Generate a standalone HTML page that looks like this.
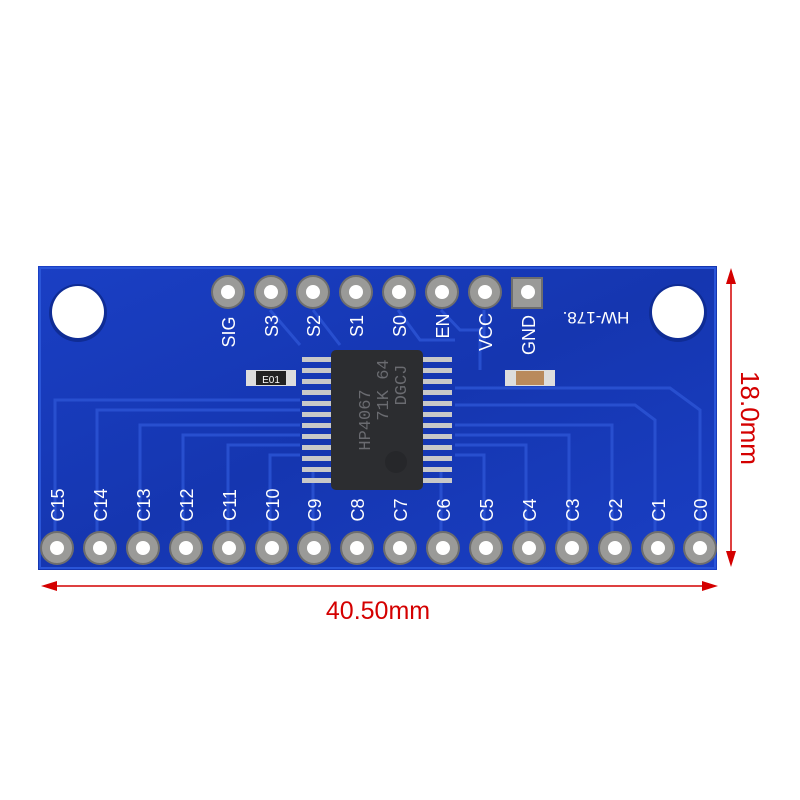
<!DOCTYPE html>
<html><head><style>body{margin:0;background:#fff}svg{display:block}</style></head><body>
<svg width="800" height="800" viewBox="0 0 800 800" xmlns="http://www.w3.org/2000/svg" font-family="Liberation Sans, sans-serif">
<defs>
<linearGradient id="bg" x1="0" y1="0" x2="1" y2="1"><stop offset="0" stop-color="#1a3fc4"/><stop offset="0.5" stop-color="#1536b0"/><stop offset="1" stop-color="#1a3fc4"/></linearGradient>
</defs>
<rect x="38" y="266" width="679" height="304" fill="url(#bg)"/>
<rect x="40" y="268" width="675" height="300" fill="none" stroke="#2a55d8" stroke-width="2"/>
<!-- traces -->
<g fill="none" stroke="#2a52d2" stroke-width="3" opacity="0.9">
<path d="M55 535 V400 H300"/><path d="M97 535 V410 H300"/><path d="M140 535 V425 H300"/><path d="M183 535 V435 H300"/>
<path d="M228 535 V445 H300"/><path d="M270 535 V455 H300"/><path d="M313 535 V470"/>
<path d="M700 535 V410 L670 388 H455"/><path d="M655 535 V420 L635 405 H455"/><path d="M612 535 V425 H455"/><path d="M569 535 V435 H455"/>
<path d="M526 535 V445 H455"/><path d="M484 535 V455 H455"/><path d="M441 535 V470"/>
<path d="M270 310 L300 345"/><path d="M313 310 L340 345"/><path d="M398 310 L420 340 H455"/><path d="M441 310 L460 330 H480 V370"/><path d="M484 310 V340"/>
</g>
<!-- mounting holes -->
<circle cx="78" cy="313" r="29" fill="#0f2c95"/><circle cx="78" cy="312" r="26" fill="#fff"/>
<circle cx="678" cy="313" r="29" fill="#0f2c95"/><circle cx="678" cy="312" r="26" fill="#fff"/>
<!-- top pins -->
<g>
<circle cx="228" cy="292" r="16" fill="#9a9a98" stroke="#6e6e6e" stroke-width="2"/><circle cx="228" cy="292" r="7" fill="#fff"/>
<circle cx="271" cy="292" r="16" fill="#9a9a98" stroke="#6e6e6e" stroke-width="2"/><circle cx="271" cy="292" r="7" fill="#fff"/>
<circle cx="313" cy="292" r="16" fill="#9a9a98" stroke="#6e6e6e" stroke-width="2"/><circle cx="313" cy="292" r="7" fill="#fff"/>
<circle cx="356" cy="292" r="16" fill="#9a9a98" stroke="#6e6e6e" stroke-width="2"/><circle cx="356" cy="292" r="7" fill="#fff"/>
<circle cx="399" cy="292" r="16" fill="#9a9a98" stroke="#6e6e6e" stroke-width="2"/><circle cx="399" cy="292" r="7" fill="#fff"/>
<circle cx="442" cy="292" r="16" fill="#9a9a98" stroke="#6e6e6e" stroke-width="2"/><circle cx="442" cy="292" r="7" fill="#fff"/>
<circle cx="485" cy="292" r="16" fill="#9a9a98" stroke="#6e6e6e" stroke-width="2"/><circle cx="485" cy="292" r="7" fill="#fff"/>
<rect x="512" y="278" width="30" height="30" fill="#9a9a98" stroke="#6e6e6e" stroke-width="2"/><circle cx="528" cy="292" r="7" fill="#fff"/>
</g>
<g fill="#fff" font-size="18" text-anchor="middle">
<text transform="translate(235,332) rotate(-90)">SIG</text>
<text transform="translate(278,326) rotate(-90)">S3</text>
<text transform="translate(320,326) rotate(-90)">S2</text>
<text transform="translate(363,326) rotate(-90)">S1</text>
<text transform="translate(406,326) rotate(-90)">S0</text>
<text transform="translate(449,326) rotate(-90)">EN</text>
<text transform="translate(492,332) rotate(-90)">VCC</text>
<text transform="translate(535,335) rotate(-90)">GND</text>
<text transform="translate(596,312) rotate(180)" font-size="17">HW-178.</text>
</g>
<!-- SMD parts -->
<rect x="246" y="370" width="50" height="16" fill="#ddd"/><rect x="256" y="371" width="30" height="14" fill="#222"/><text x="271" y="383" fill="#fff" font-size="10" text-anchor="middle">E01</text>
<rect x="505" y="370" width="50" height="16" fill="#ddd"/><rect x="516" y="371" width="28" height="14" fill="#b98a5c"/>
<!-- chip pins -->
<g fill="#c8c8c8">
<rect x="302" y="357" width="34" height="5"/><rect x="302" y="368" width="34" height="5"/><rect x="302" y="379" width="34" height="5"/><rect x="302" y="390" width="34" height="5"/>
<rect x="302" y="401" width="34" height="5"/><rect x="302" y="412" width="34" height="5"/><rect x="302" y="423" width="34" height="5"/><rect x="302" y="434" width="34" height="5"/>
<rect x="302" y="445" width="34" height="5"/><rect x="302" y="456" width="34" height="5"/><rect x="302" y="467" width="34" height="5"/><rect x="302" y="478" width="34" height="5"/>
<rect x="418" y="357" width="34" height="5"/><rect x="418" y="368" width="34" height="5"/><rect x="418" y="379" width="34" height="5"/><rect x="418" y="390" width="34" height="5"/>
<rect x="418" y="401" width="34" height="5"/><rect x="418" y="412" width="34" height="5"/><rect x="418" y="423" width="34" height="5"/><rect x="418" y="434" width="34" height="5"/>
<rect x="418" y="445" width="34" height="5"/><rect x="418" y="456" width="34" height="5"/><rect x="418" y="467" width="34" height="5"/><rect x="418" y="478" width="34" height="5"/>
</g>
<rect x="331" y="350" width="92" height="140" rx="5" fill="#2c2d30"/>
<circle cx="396" cy="462" r="11" fill="#26272a"/>
<g fill="#6a6b70" font-size="17" font-family="Liberation Mono, monospace">
<text transform="translate(370,420) rotate(-90)" text-anchor="middle">HP4067</text>
<text transform="translate(388,390) rotate(-90)" text-anchor="middle">71K 64</text>
<text transform="translate(406,385) rotate(-90)" text-anchor="middle">DGCJ</text>
</g>
<!-- bottom pins -->
<g fill="#9a9a98" stroke="#6e6e6e" stroke-width="2">
<circle cx="57" cy="548" r="16"/><circle cx="100" cy="548" r="16"/><circle cx="143" cy="548" r="16"/><circle cx="186" cy="548" r="16"/>
<circle cx="229" cy="548" r="16"/><circle cx="272" cy="548" r="16"/><circle cx="314" cy="548" r="16"/><circle cx="357" cy="548" r="16"/>
<circle cx="400" cy="548" r="16"/><circle cx="443" cy="548" r="16"/><circle cx="486" cy="548" r="16"/><circle cx="529" cy="548" r="16"/>
<circle cx="572" cy="548" r="16"/><circle cx="615" cy="548" r="16"/><circle cx="658" cy="548" r="16"/><circle cx="700" cy="548" r="16"/>
</g>
<g fill="#fff">
<circle cx="57" cy="548" r="7"/><circle cx="100" cy="548" r="7"/><circle cx="143" cy="548" r="7"/><circle cx="186" cy="548" r="7"/>
<circle cx="229" cy="548" r="7"/><circle cx="272" cy="548" r="7"/><circle cx="314" cy="548" r="7"/><circle cx="357" cy="548" r="7"/>
<circle cx="400" cy="548" r="7"/><circle cx="443" cy="548" r="7"/><circle cx="486" cy="548" r="7"/><circle cx="529" cy="548" r="7"/>
<circle cx="572" cy="548" r="7"/><circle cx="615" cy="548" r="7"/><circle cx="658" cy="548" r="7"/><circle cx="700" cy="548" r="7"/>
</g>
<g fill="#fff" font-size="18" text-anchor="middle">
<text transform="translate(64,505) rotate(-90)">C15</text>
<text transform="translate(107,505) rotate(-90)">C14</text>
<text transform="translate(150,505) rotate(-90)">C13</text>
<text transform="translate(193,505) rotate(-90)">C12</text>
<text transform="translate(236,505) rotate(-90)">C11</text>
<text transform="translate(279,505) rotate(-90)">C10</text>
<text transform="translate(321,510) rotate(-90)">C9</text>
<text transform="translate(364,510) rotate(-90)">C8</text>
<text transform="translate(407,510) rotate(-90)">C7</text>
<text transform="translate(450,510) rotate(-90)">C6</text>
<text transform="translate(493,510) rotate(-90)">C5</text>
<text transform="translate(536,510) rotate(-90)">C4</text>
<text transform="translate(579,510) rotate(-90)">C3</text>
<text transform="translate(622,510) rotate(-90)">C2</text>
<text transform="translate(665,510) rotate(-90)">C1</text>
<text transform="translate(707,510) rotate(-90)">C0</text>
</g>
<!-- dimensions -->
<g stroke="#d40000" stroke-width="1.5" fill="#d40000">
<line x1="50" y1="586" x2="708" y2="586"/>
<polygon points="41,586 57,581 57,591" stroke="none"/><polygon points="718,586 702,581 702,591" stroke="none"/>
<line x1="731" y1="278" x2="731" y2="558"/>
<polygon points="731,268 726,284 736,284" stroke="none"/><polygon points="731,567 726,551 736,551" stroke="none"/>
</g>
<text x="378" y="619" fill="#d40000" font-size="25" text-anchor="middle">40.50mm</text>
<text transform="translate(741,418) rotate(90)" fill="#d40000" font-size="26" text-anchor="middle">18.0mm</text>
</svg>
</body></html>
